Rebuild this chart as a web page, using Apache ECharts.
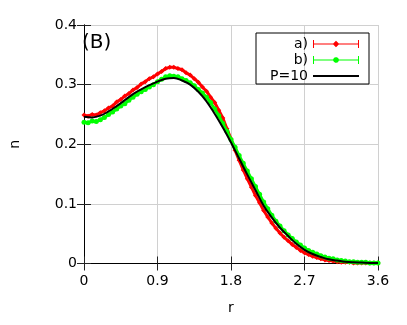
<!DOCTYPE html>
<html>
<head>
<meta charset="utf-8">
<script src="https://cdn.jsdelivr.net/npm/echarts@6/dist/echarts.min.js"></script>
<style>
html,body{margin:0;padding:0;background:#fff;}
#chart{width:407px;height:325px;}
</style>
</head>
<body>
<div id="chart"></div>
<script>
// sample positions (r) for data sets a) and b)
const rPts = [0.00,0.05,0.10,0.15,0.20,0.25,0.30,0.35,0.40,0.45,0.50,0.55,0.60,0.65,0.70,0.75,0.80,0.85,0.90,0.95,
  1.00,1.05,1.10,1.15,1.20,1.25,1.30,1.35,1.40,1.45,1.50,1.55,1.60,1.65,1.70,1.75,1.80,1.85,1.90,1.95,
  2.00,2.05,2.10,2.15,2.20,2.25,2.30,2.35,2.40,2.45,2.50,2.55,2.60,2.65,2.70,2.75,2.80,2.85,2.90,2.95,
  3.00,3.05,3.10,3.15,3.20,3.25,3.30,3.35,3.40,3.45,3.50,3.55,3.60];
// a) red
const seriesA = [0.249,0.247,0.250,0.249,0.253,0.256,0.261,0.264,0.271,0.275,0.281,0.285,0.291,0.295,0.301,0.305,0.310,0.313,0.318,0.322,
  0.327,0.329,0.329,0.327,0.325,0.320,0.316,0.310,0.304,0.296,0.289,0.279,0.270,0.257,0.244,0.226,0.209,0.190,0.173,0.157,
  0.142,0.128,0.114,0.102,0.089,0.078,0.068,0.059,0.051,0.044,0.038,0.032,0.027,0.022,0.018,0.015,0.012,0.010,0.008,0.006,
  0.005,0.004,0.003,0.002,0.002,0.002,0.001,0.001,0.001,0.001,0.001,0.001,0.001];
// b) green
const seriesB = [0.237,0.236,0.239,0.238,0.241,0.245,0.250,0.254,0.259,0.264,0.268,0.274,0.279,0.284,0.288,0.292,0.296,0.300,0.305,0.309,
  0.313,0.315,0.314,0.313,0.310,0.307,0.303,0.298,0.292,0.286,0.279,0.270,0.259,0.248,0.235,0.222,0.208,0.195,0.181,0.168,
  0.155,0.142,0.129,0.116,0.103,0.092,0.081,0.071,0.063,0.055,0.048,0.042,0.036,0.031,0.026,0.022,0.019,0.016,0.013,0.011,
  0.009,0.008,0.006,0.005,0.004,0.003,0.003,0.002,0.002,0.002,0.001,0.001,0.001];
// P=10 black curve
const rLine = [0.0,0.1,0.2,0.3,0.4,0.5,0.6,0.7,0.8,0.9,1.0,1.1,1.2,1.3,1.4,1.5,1.6,1.7,1.8,1.9,
  2.0,2.1,2.2,2.3,2.4,2.5,2.6,2.7,2.8,2.9,3.0,3.1,3.2,3.3,3.4,3.5,3.6];
const seriesP = [0.246,0.245,0.248,0.255,0.264,0.274,0.284,0.292,0.299,0.305,0.310,0.311,0.307,0.300,0.288,0.272,0.251,0.228,0.203,0.176,
  0.149,0.123,0.097,0.077,0.060,0.046,0.033,0.023,0.016,0.011,0.007,0.005,0.003,0.002,0.0015,0.001,0.001];
const xTicks = {min:0, max:3.6, interval:0.9};
const yTicks = {min:0, max:0.4, interval:0.1};
const names = ['a)','b)','P=10'];

const zip = (xs, ys) => xs.map((x,i)=>[x, ys[i]]);
const chart = echarts.init(document.getElementById('chart'), null, {renderer:'canvas'});
const font = 'DejaVu Sans';
const fmt = v => (Math.round(v*10)/10).toString();
const iconA = 'path://M0,0L0.01,0ZM0,0H1V8H0ZM45,0H46V8H45ZM1,3.5H20.2L23,0.8L25.8,3.5H45V4.5H25.8L23,7.2L20.2,4.5H1Z';
const iconB = 'path://M0,0L0.01,0ZM0,0H1V8H0ZM45,0H46V8H45ZM1,3.5H20.1A3,3 0 0 1 25.9,3.5H45V4.5H25.9A3,3 0 0 1 20.1,4.5H1Z';
const iconP = 'path://M0,0L0.01,0ZM46,8L45.99,8ZM0,3H46V5H0Z';

const option = {
  animation:false,
  textStyle:{fontFamily:font},
  title:{text:'(B)', left:82, top:33, padding:0, textStyle:{fontSize:20, fontWeight:'normal', color:'#000', fontFamily:font}},
  grid:{left:80, right:29, top:25, bottom:61.5},
  legend:{
    orient:'vertical', align:'right', right:38, top:33,
    padding:[4,10,1,14], itemGap:2, itemWidth:46, itemHeight:8,
    borderColor:'#000', borderWidth:1,
    textStyle:{fontSize:14, color:'#000', fontFamily:font},
    data:[{name:names[0], icon:iconA},{name:names[1], icon:iconB},{name:names[2], icon:iconP}]
  },
  xAxis:[{
    type:'value', min:xTicks.min, max:xTicks.max, interval:xTicks.interval,
    name:'r', nameLocation:'middle', nameGap:38, nameTextStyle:{fontSize:14, color:'#000'},
    axisLine:{lineStyle:{color:'#000', width:1}},
    axisTick:{inside:true, length:7, lineStyle:{color:'#222'}},
    axisLabel:{fontSize:14, color:'#000', margin:11, formatter:fmt},
    splitLine:{show:true, lineStyle:{color:'#d0d0d0', width:1}}
  },{
    type:'value', position:'top', min:xTicks.min, max:xTicks.max, interval:xTicks.interval,
    axisLine:{show:true, lineStyle:{color:'#000', width:1}},
    axisTick:{inside:true, length:7, lineStyle:{color:'#222'}},
    axisLabel:{show:false}, splitLine:{show:false}
  }],
  yAxis:[{
    type:'value', min:yTicks.min, max:yTicks.max, interval:yTicks.interval,
    name:'n', nameLocation:'middle', nameGap:62, nameTextStyle:{fontSize:14, color:'#000'},
    axisLine:{show:true, lineStyle:{color:'#000', width:1}},
    axisTick:{show:true, inside:true, length:7, lineStyle:{color:'#222'}},
    axisLabel:{fontSize:14, color:'#000', margin:7, formatter:fmt},
    splitLine:{show:true, lineStyle:{color:'#d0d0d0', width:1}}
  },{
    type:'value', position:'right', min:yTicks.min, max:yTicks.max, interval:yTicks.interval,
    axisLine:{show:true, lineStyle:{color:'#000', width:1}},
    axisTick:{show:true, inside:true, length:7, lineStyle:{color:'#222'}},
    axisLabel:{show:false}, splitLine:{show:false}
  }],
  series:[
    {name:names[0], type:'line', data:zip(rPts, seriesA), symbol:'diamond', symbolSize:5, showSymbol:true,
     lineStyle:{color:'#ff0000', width:3}, itemStyle:{color:'#ff0000'}, z:2},
    {name:names[1], type:'line', data:zip(rPts, seriesB), symbol:'circle', symbolSize:5, showSymbol:true,
     lineStyle:{color:'#00ff00', width:3}, itemStyle:{color:'#00ff00'}, z:3},
    {name:names[2], type:'line', data:zip(rLine, seriesP), smooth:0.4, symbol:'none', showSymbol:false,
     lineStyle:{color:'#000', width:2}, itemStyle:{color:'#000'}, z:4}
  ]
};
chart.setOption(option);
</script>
</body>
</html>
